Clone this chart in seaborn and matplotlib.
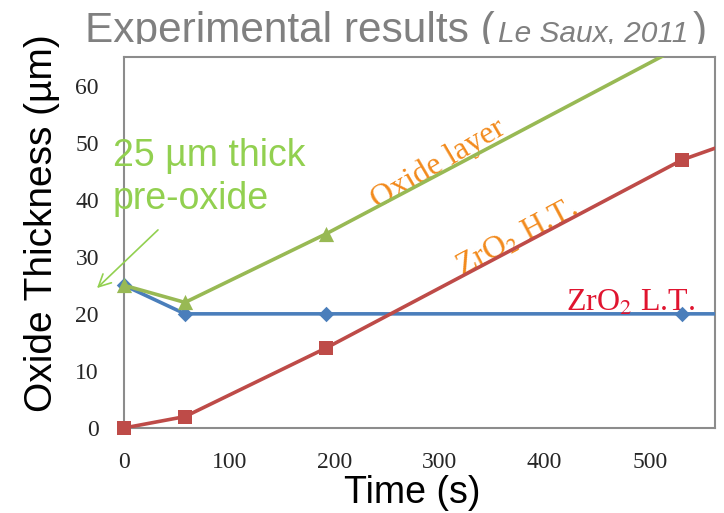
import matplotlib
matplotlib.use("Agg")
import matplotlib.pyplot as plt
import seaborn as sns
import pandas as pd
from matplotlib.transforms import Bbox

# ---- data ----
time_lt = [0, 58, 192, 531, 600]
zro2_lt = [25, 20, 20, 20, 20]
time_ht = [0, 58, 192, 531, 600]
zro2_ht = [0, 2, 14, 47, 51.5]
time_ox = [0, 58, 192, 531]
oxide = [25, 22, 34, 67]
x_ticks = [0, 100, 200, 300, 400, 500]
y_ticks = [0, 10, 20, 30, 40, 50, 60]
XMAX, YMAX = 562, 65

sns.set_style("white")
plt.rcParams['font.family'] = ['Liberation Sans', 'DejaVu Sans']

fig = plt.figure(figsize=(7.24, 5.13), dpi=100)
ax = fig.add_axes([124/724, 85/513, (715-124)/724, (428-57)/513])

blue, red, green = "#4A7EBB", "#BE4B48", "#98B954"
series = [
    (time_lt, zro2_lt, blue, "D", 62),
    (time_ht, zro2_ht, red, "s", 90),
    (time_ox, oxide, green, "^", 120),
]
for i, (t, v, col, mk, sz) in enumerate(series):
    df = pd.DataFrame({"t": t, "v": v})
    sns.lineplot(data=df, x="t", y="v", ax=ax, color=col, lw=2.6, zorder=3 + i)
    vis = df[(df.t <= XMAX) & (df.v <= YMAX)]
    sns.scatterplot(data=vis, x="t", y="v", ax=ax, color=col, marker=mk, s=sz,
                    linewidth=0, zorder=3.5 + i, clip_on=False, legend=False)

ax.set_xlim(0, XMAX)
ax.set_ylim(0, YMAX)
ax.set_xticks(x_ticks)
ax.set_yticks(y_ticks)
for lab in ax.get_xticklabels() + ax.get_yticklabels():
    lab.set_fontfamily("Liberation Serif")
    lab.set_fontsize(17)
ax.tick_params(length=0)
ax.tick_params(axis="x", pad=17)
ax.tick_params(axis="y", pad=18)
for s in ax.spines.values():
    s.set_color("#8C8C8C")
    s.set_linewidth(1.5)
    s.set_visible(True)

ax.set_xlabel("Time (s)", fontsize=27, color="black")
ax.set_ylabel("Oxide Thickness (µm)", fontsize=28, color="black")
ax.xaxis.set_label_coords(0.487, -0.128)
ax.yaxis.set_label_coords(-0.108, 0.553)

# annotations
orange = "#F28A1C"
ax.text(299, 46.2, "Oxide layer", rotation=30.5, rotation_mode="anchor",
        ha="center", va="center", fontsize=23, color=orange,
        family="Liberation Serif")
ax.text(374, 33.2, "ZrO$_2$ H.T.", rotation=28, rotation_mode="anchor",
        ha="center", va="center", fontsize=23, color=orange,
        family="Liberation Serif", math_fontfamily="stix")
ax.text(482, 21.8, "ZrO$_2$ L.T.", ha="center", va="center", fontsize=23,
        color="#E0142F", family="Liberation Serif", math_fontfamily="stix")

lg = "#92D050"
fig.text(113/724, 1 - 166/513, "25 µm thick", ha="left", va="baseline",
         fontsize=27, color=lg)
fig.text(113/724, 1 - 209/513, "pre-oxide", ha="left", va="baseline",
         fontsize=27, color=lg)
ax.annotate("", xy=(95, 513 - 290), xycoords="figure pixels",
            xytext=(160, 513 - 228), textcoords="figure pixels",
            arrowprops=dict(arrowstyle="->", color=lg, lw=1.2,
                            mutation_scale=22), annotation_clip=False)

# title (cut at the bottom as in the reference)
clip = Bbox.from_extents(0, 513 - 44, 724, 513)
base = 1 - 42/513
t1 = fig.text(85/724, base, "Experimental results (", ha="left",
              va="baseline", fontsize=30.5, color="#808080")
t1.set_clip_box(clip)
t1.set_clip_on(True)
fig.canvas.draw()
bb = t1.get_window_extent()
t2 = fig.text(bb.x1/724 + 0.004, base, "Le Saux, 2011", ha="left",
              va="baseline", fontsize=21.5, color="#808080", style="italic")
t2.set_clip_box(clip)
t2.set_clip_on(True)
fig.canvas.draw()
bb2 = t2.get_window_extent()
t3 = fig.text(bb2.x1/724 + 0.006, base, ")", ha="left",
              va="baseline", fontsize=30.5, color="#808080")
t3.set_clip_box(clip)
t3.set_clip_on(True)

fig.savefig("out.png", dpi=100)
